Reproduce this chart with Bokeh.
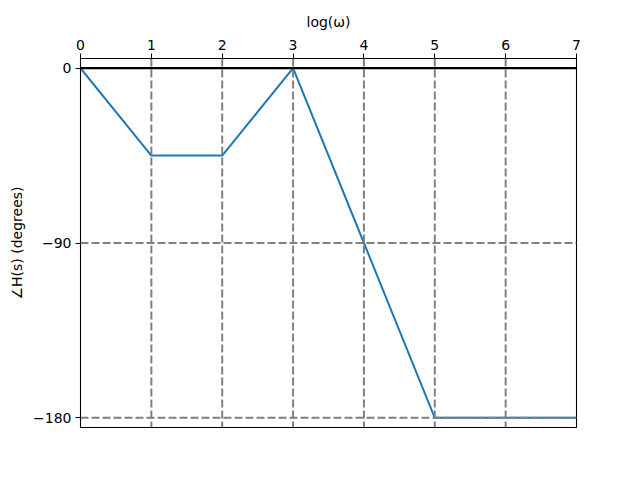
from bokeh.plotting import figure
from bokeh.models import Range1d, FixedTicker, Span
from bokeh.embed import file_html
from bokeh.resources import INLINE

# Data
log_w = [0, 1, 2, 3, 4, 5, 7]
phase_deg = [0, -45, -45, 0, -90, -180, -180]
x_ticks = [0, 1, 2, 3, 4, 5, 6, 7]
y_ticks = [0, -90, -180]
y_tick_labels = {0: "0", -90: "\u221290", -180: "\u2212180"}
grid_x = [1, 2, 3, 4, 5, 6]
grid_y = [-90, -180]
zero_line = 0

FONT = "DejaVu Sans"
FS = "14px"

p = figure(frame_width=496, frame_height=369, output_backend="svg", toolbar_location=None,
           x_range=Range1d(0, 7), y_range=Range1d(-185, 5),
           x_axis_location="above",
           min_border_left=80, min_border_right=56, min_border_top=58, min_border_bottom=45)

p.xgrid.visible = False
p.ygrid.visible = False
p.outline_line_color = "black"
p.outline_line_width = 1.1
p.background_fill_color = "white"
p.border_fill_color = "white"

for gx in grid_x:
    p.add_layout(Span(location=gx, dimension="height", line_color="#808080",
                      line_width=2, line_dash="8 3"))
for gy in grid_y:
    p.add_layout(Span(location=gy, dimension="width", line_color="#808080",
                      line_width=2, line_dash="8 3"))

p.line(log_w, phase_deg, line_color="#1f77b4", line_width=2)
p.add_layout(Span(location=zero_line, dimension="width", line_color="black", line_width=2.2))

for ax in (p.xaxis[0], p.yaxis[0]):
    ax.minor_tick_line_color = None
    ax.major_tick_out = 5
    ax.major_tick_in = 0
    ax.major_tick_line_color = "black"
    ax.axis_line_color = "black"
    ax.major_label_standoff = 4
    ax.axis_label_text_font = FONT
    ax.axis_label_text_font_size = FS
    ax.axis_label_text_font_style = "normal"
    ax.axis_label_text_color = "black"
    ax.major_label_text_font = FONT
    ax.major_label_text_font_size = FS
    ax.major_label_text_color = "black"

xa = p.xaxis[0]
xa.ticker = FixedTicker(ticks=x_ticks)
xa.axis_label = "log(\u03c9)"
xa.axis_label_standoff = 7

ya = p.yaxis[0]
ya.ticker = FixedTicker(ticks=y_ticks)
ya.major_label_overrides = y_tick_labels
ya.axis_label = "\u2220H(s) (degrees)"
ya.axis_label_standoff = 5

open("out.html", "w").write(file_html(p, INLINE))
